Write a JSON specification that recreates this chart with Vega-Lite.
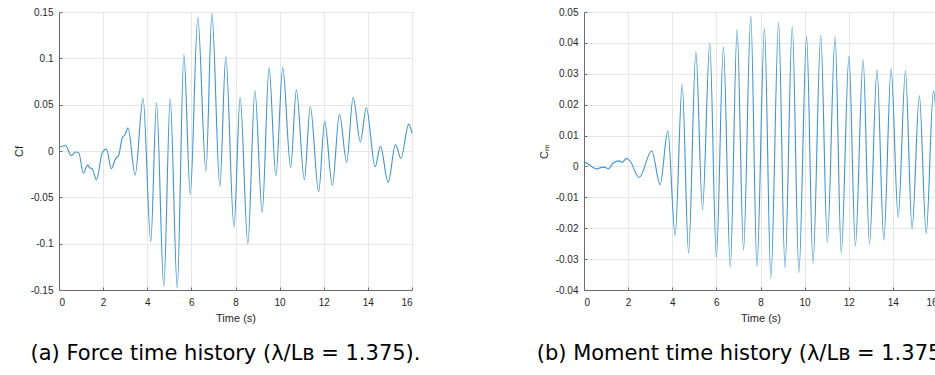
{
  "$schema": "https://vega.github.io/schema/vega-lite/v6.json",
  "autosize": {"type": "none"},
  "padding": {"left": 59, "top": 12, "right": 876, "bottom": 363},
  "background": "white",
  "datasets": {
    "force": [
      {"t": 0, "c": 0.004}, {"t": 0.3, "c": 0.006}, {"t": 0.55, "c": -0.005}, {"t": 0.76, "c": -0.001},
      {"t": 0.9, "c": -0.002}, {"t": 1.1, "c": -0.024}, {"t": 1.3, "c": -0.015}, {"t": 1.38, "c": -0.018},
      {"t": 1.5, "c": -0.019}, {"t": 1.7, "c": -0.031}, {"t": 1.96, "c": -0.002}, {"t": 2.15, "c": 0.002},
      {"t": 2.37, "c": -0.019}, {"t": 2.57, "c": -0.008}, {"t": 2.7, "c": -0.005}, {"t": 2.88, "c": 0.015},
      {"t": 2.98, "c": 0.017}, {"t": 3.13, "c": 0.025}, {"t": 3.45, "c": -0.026}, {"t": 3.81, "c": 0.057},
      {"t": 4.16, "c": -0.098}, {"t": 4.42, "c": 0.052}, {"t": 4.75, "c": -0.146}, {"t": 5.04, "c": 0.056},
      {"t": 5.36, "c": -0.148}, {"t": 5.66, "c": 0.104}, {"t": 5.95, "c": -0.047}, {"t": 6.29, "c": 0.144},
      {"t": 6.66, "c": -0.022}, {"t": 6.93, "c": 0.148}, {"t": 7.29, "c": -0.038}, {"t": 7.56, "c": 0.102},
      {"t": 7.93, "c": -0.082}, {"t": 8.21, "c": 0.058}, {"t": 8.56, "c": -0.1}, {"t": 8.88, "c": 0.065},
      {"t": 9.21, "c": -0.066}, {"t": 9.52, "c": 0.09}, {"t": 9.83, "c": -0.027}, {"t": 10.14, "c": 0.09},
      {"t": 10.5, "c": -0.018}, {"t": 10.76, "c": 0.066}, {"t": 11.12, "c": -0.031}, {"t": 11.39, "c": 0.048},
      {"t": 11.77, "c": -0.044}, {"t": 12.04, "c": 0.032}, {"t": 12.39, "c": -0.037}, {"t": 12.71, "c": 0.04},
      {"t": 13.04, "c": -0.012}, {"t": 13.33, "c": 0.058}, {"t": 13.66, "c": 0.01}, {"t": 13.93, "c": 0.047},
      {"t": 14.33, "c": -0.017}, {"t": 14.57, "c": 0.005}, {"t": 14.92, "c": -0.034}, {"t": 15.25, "c": 0.007},
      {"t": 15.5, "c": -0.008}, {"t": 15.85, "c": 0.029}, {"t": 16, "c": 0.019}
    ],
    "moment": [
      {"t": 0, "c": 0.0016}, {"t": 0.3, "c": 0.0002}, {"t": 0.57, "c": -0.0008}, {"t": 0.8, "c": -0.0003},
      {"t": 0.95, "c": -0.0003}, {"t": 1.1, "c": -0.0008}, {"t": 1.33, "c": 0.0012}, {"t": 1.6, "c": 0.0018},
      {"t": 1.72, "c": 0.0013}, {"t": 1.94, "c": 0.0026}, {"t": 2.1, "c": 0.0016}, {"t": 2.5, "c": -0.0036},
      {"t": 3.07, "c": 0.0051}, {"t": 3.45, "c": -0.0059}, {"t": 3.8, "c": 0.0115}, {"t": 4.13, "c": -0.0224},
      {"t": 4.45, "c": 0.0266}, {"t": 4.74, "c": -0.028}, {"t": 5.07, "c": 0.0371}, {"t": 5.37, "c": -0.0139},
      {"t": 5.7, "c": 0.0398}, {"t": 6.0, "c": -0.0294}, {"t": 6.32, "c": 0.0387}, {"t": 6.63, "c": -0.0325},
      {"t": 6.94, "c": 0.0443}, {"t": 7.23, "c": -0.027}, {"t": 7.56, "c": 0.0488}, {"t": 7.84, "c": -0.0324},
      {"t": 8.18, "c": 0.0448}, {"t": 8.47, "c": -0.0362}, {"t": 8.82, "c": 0.0465}, {"t": 9.11, "c": -0.0329},
      {"t": 9.44, "c": 0.0453}, {"t": 9.74, "c": -0.0343}, {"t": 10.09, "c": 0.0422}, {"t": 10.38, "c": -0.0314},
      {"t": 10.73, "c": 0.0425}, {"t": 11.03, "c": -0.0246}, {"t": 11.38, "c": 0.042}, {"t": 11.66, "c": -0.028},
      {"t": 12.01, "c": 0.0357}, {"t": 12.3, "c": -0.0257}, {"t": 12.65, "c": 0.0346}, {"t": 12.94, "c": -0.0251},
      {"t": 13.28, "c": 0.0313}, {"t": 13.59, "c": -0.0238}, {"t": 13.92, "c": 0.0317}, {"t": 14.24, "c": -0.0165},
      {"t": 14.57, "c": 0.031}, {"t": 14.87, "c": -0.0201}, {"t": 15.2, "c": 0.0229}, {"t": 15.51, "c": -0.0217},
      {"t": 15.84, "c": 0.0245}, {"t": 16, "c": 0.013}
    ]
  },
  "hconcat": [
    {
      "width": 353,
      "height": 278,
      "data": {"name": "force"},
      "title": {"text": "(a) Force time history (λ/Lʙ = 1.375).", "orient": "bottom", "anchor": "middle", "frame": "group", "offset": 20, "dx": -10},
      "mark": {"type": "line", "interpolate": "monotone", "color": "#3f95cf", "strokeWidth": 1.1},
      "encoding": {
        "x": {"field": "t", "type": "quantitative", "title": "Time (s)",
              "scale": {"domain": [0, 16], "nice": false, "zero": false},
              "axis": {"values": [0, 2, 4, 6, 8, 10, 12, 14, 16]}},
        "y": {"field": "c", "type": "quantitative", "title": "Cf",
              "scale": {"domain": [-0.15, 0.15], "nice": false, "zero": false},
              "axis": {"values": [-0.15, -0.1, -0.05, 0, 0.05, 0.1, 0.15], "labelExpr": "'' + datum.value"}}
      }
    },
    {
      "width": 353,
      "height": 278,
      "data": {"name": "moment"},
      "title": {"text": "(b) Moment time history (λ/Lʙ = 1.375).", "orient": "bottom", "anchor": "middle", "frame": "group", "offset": 20, "dx": -14},
      "mark": {"type": "line", "interpolate": "monotone", "color": "#3f95cf", "strokeWidth": 1.1},
      "encoding": {
        "x": {"field": "t", "type": "quantitative", "title": "Time (s)",
              "scale": {"domain": [0, 16], "nice": false, "zero": false},
              "axis": {"values": [0, 2, 4, 6, 8, 10, 12, 14, 16]}},
        "y": {"field": "c", "type": "quantitative", "title": "Cₘ",
              "scale": {"domain": [-0.04, 0.05], "nice": false, "zero": false},
              "axis": {"values": [-0.04, -0.03, -0.02, -0.01, 0, 0.01, 0.02, 0.03, 0.04, 0.05], "labelExpr": "'' + datum.value"}}
      }
    }
  ],
  "spacing": 172,
  "bounds": "flush",
  "config": {
    "view": {"stroke": null},
    "axis": {
      "labelFont": "Liberation Sans",
      "labelFontSize": 10,
      "labelColor": "#262626",
      "titleFont": "Liberation Sans",
      "titleFontSize": 11,
      "titleFontWeight": "normal",
      "titleColor": "#262626",
      "domainColor": "#6b6b6b",
      "domainWidth": 1,
      "tickColor": "#6b6b6b",
      "tickSize": -3,
      "tickWidth": 1,
      "gridColor": "#e6e6e6",
      "gridWidth": 1,
      "labelPadding": 10,
      "titlePadding": 5
    },
    "axisY": {"labelPadding": 9, "titlePadding": 6},
    "title": {"font": "DejaVu Sans", "fontSize": 21, "fontWeight": "normal", "color": "#000000"}
  }
}
